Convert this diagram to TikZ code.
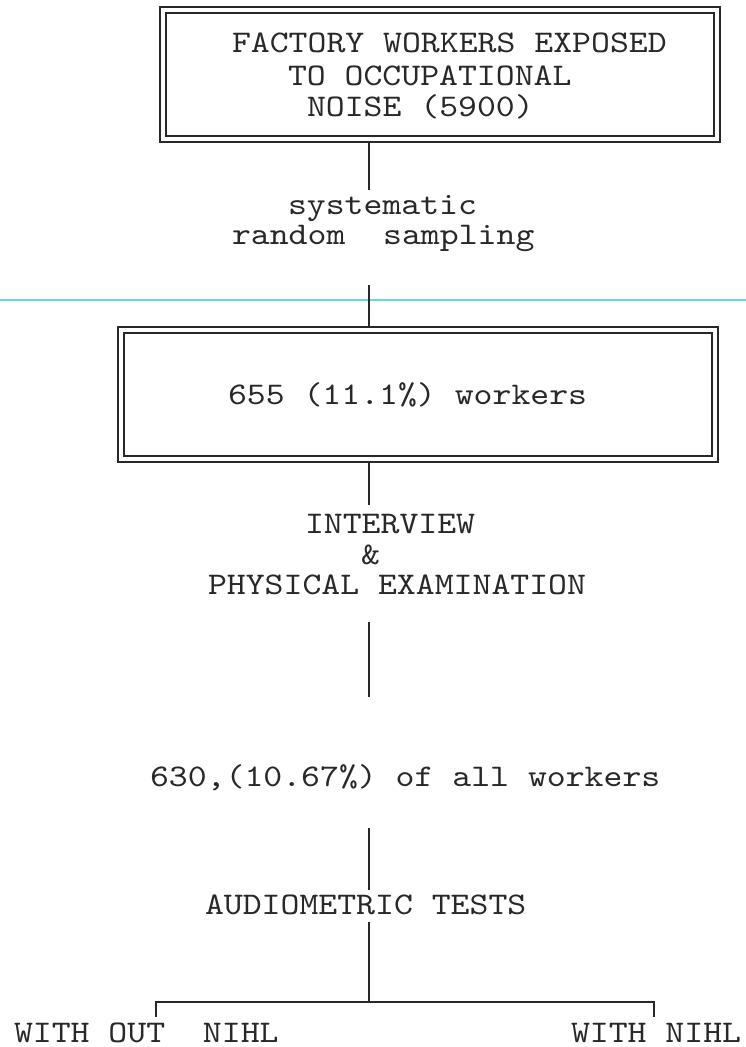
\documentclass[tikz,border=0pt]{standalone}
\usepackage{fontspec}
\setmainfont{lmmono10-regular}[Extension=.otf,FakeStretch=1.143]
\definecolor{ink}{RGB}{40,40,40}
\definecolor{scanline}{RGB}{90,225,212}
\begin{document}
\begin{tikzpicture}[x=1pt,y=-1pt,
  txt/.style={anchor=base west,inner sep=0pt,outer sep=0pt,text=ink,font=\fontsize{31.5}{34}\selectfont},
  dbox/.style={draw=ink,double=white,line width=1.2pt,double distance=4.8pt,inner sep=0pt,outer sep=0pt},
  ln/.style={draw=ink,line width=1.2pt}]
\useasboundingbox (0,0) rectangle (746,1047);
% scan artefact line
\coordinate (cl) at (0,300);
\coordinate (cr) at (746,300);
\draw[scanline,line width=1.5pt] (cl) -- (cr);
% boxes
\node[dbox,minimum width=554pt,minimum height=129pt] (topbox) at (440,74.5) {};
\node[dbox,minimum width=594pt,minimum height=129pt] (midbox) at (418,394.5) {};
% texts
\node[txt] (t1) at (232,52) {FACTORY WORKERS EXPOSED};
\node[txt] (t2) at (288,85) {TO OCCUPATIONAL};
\node[txt] (t3) at (307,116) {NOISE (5900)};
\node[txt] (s1) at (288,214) {systematic};
\node[txt] (s2) at (232,244) {random~~sampling};
\node[txt] (m1) at (228,404) {655 (11.1\%) workers};
\node[txt] (i1) at (305,533) {INTERVIEW};
\node[txt] (i2) at (361,564) {\&};
\node[txt] (i3) at (208,594) {PHYSICAL EXAMINATION};
\node[txt] (w1) at (150,786) {630,(10.67\%) of all workers};
\node[txt] (a1) at (205,914) {AUDIOMETRIC TESTS};
\node[txt] (r1) at (14,1042) {WITH OUT~~NIHL};
\node[txt] (r2) at (571,1042) {WITH NIHL};
% spine coordinates
\coordinate (spine) at (369,0);
\coordinate (c1) at (369,190);
\coordinate (c2) at (369,285);
\coordinate (c3) at (369,505);
\coordinate (c4a) at (369,622);
\coordinate (c4b) at (369,697);
\coordinate (c5a) at (369,828);
\coordinate (c5b) at (369,890);
\coordinate (c6a) at (369,922);
\coordinate (br) at (369,1002);
\coordinate (bl) at (156,1002);
\coordinate (brr) at (654,1002);
\coordinate (tl) at (156,1017);
\coordinate (tr) at (654,1017);
% connectors
\draw[ln,shorten <=3pt] (topbox.south -| spine) -- (c1);
\draw[ln,shorten >=3pt] (c2) -- (midbox.north -| spine);
\draw[ln,shorten <=3pt] (midbox.south -| spine) -- (c3);
\draw[ln] (c4a) -- (c4b);
\draw[ln] (c5a) -- (c5b);
\draw[ln] (c6a) -- (br);
\draw[ln] (tl) -- (bl) -- (brr) -- (tr);
\end{tikzpicture}
\end{document}
